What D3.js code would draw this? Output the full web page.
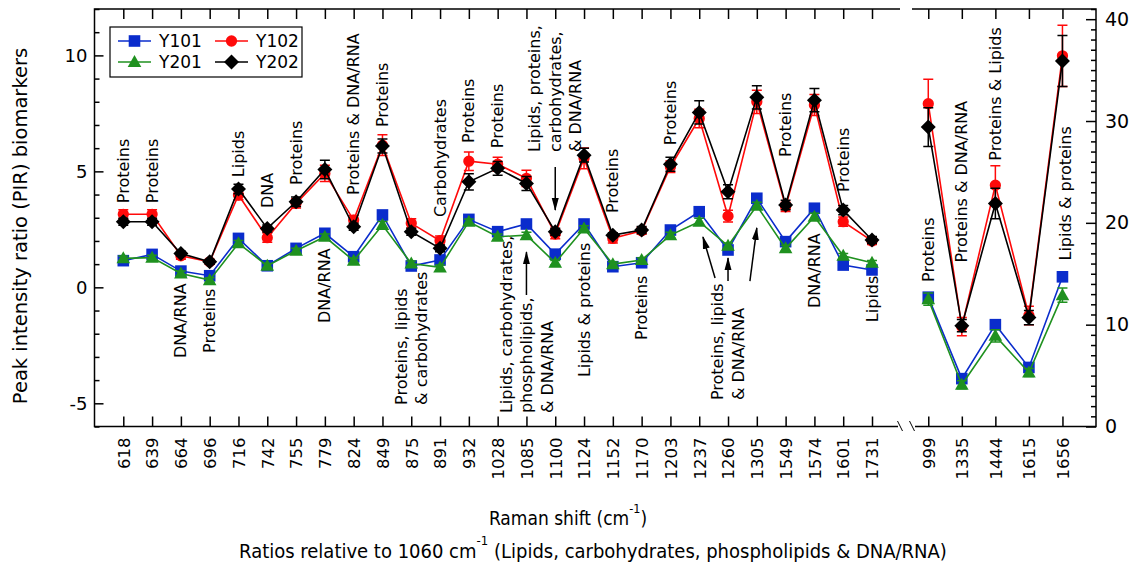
<!DOCTYPE html>
<html>
<head>
<meta charset="utf-8">
<script src="https://cdn.jsdelivr.net/npm/d3@7"></script>
<style>
body{margin:0;background:#fff}
svg{display:block}
</style>
</head>
<body>
<svg id="chart" width="1141" height="565"></svg>
<script>
// x categories (Raman shift, cm-1)
var leftCats = ["618","639","664","696","716","742","755","779","824","849","875","891","932","1028","1085","1100","1124","1152","1170","1203","1237","1260","1305","1549","1574","1601","1731"];
var rightCats = ["999","1335","1444","1615","1656"];

// left panel values (left axis)
var y101L = [1.15,1.42,0.70,0.50,2.11,0.93,1.68,2.33,1.32,3.12,0.92,1.18,2.93,2.40,2.73,1.43,2.73,0.89,1.06,2.47,3.26,1.61,3.84,1.97,3.41,0.96,0.75];
var y201L = [1.25,1.28,0.60,0.31,1.90,0.93,1.58,2.18,1.15,2.69,1.03,0.86,2.83,2.18,2.25,1.06,2.54,1.00,1.18,2.25,2.83,1.79,3.52,1.68,3.04,1.36,1.06];
var y102L = [3.15,3.15,1.36,1.10,3.98,2.14,3.62,4.91,2.90,6.13,2.76,2.01,5.44,5.31,4.70,2.30,5.56,2.11,2.44,5.20,7.28,3.07,8.00,3.47,7.86,2.83,2.00];
var y202L = [2.83,2.83,1.46,1.10,4.24,2.54,3.69,5.08,2.61,6.09,2.40,1.68,4.55,5.13,4.48,2.40,5.70,2.25,2.47,5.31,7.54,4.12,8.19,3.55,8.07,3.33,2.04];
var e101L = [0.1,0.1,0.1,0.1,0.12,0.1,0.1,0.12,0.1,0.15,0.1,0.1,0.12,0.12,0.12,0.1,0.12,0.1,0.1,0.12,0.15,0.12,0.15,0.12,0.15,0.1,0.1];
var e201L = [0.1,0.1,0.1,0.1,0.12,0.1,0.1,0.12,0.1,0.15,0.1,0.1,0.12,0.12,0.12,0.1,0.12,0.1,0.1,0.12,0.15,0.12,0.15,0.12,0.15,0.1,0.1];
var e102L = [0.2,0.2,0.15,0.1,0.2,0.2,0.2,0.35,0.2,0.45,0.2,0.2,0.4,0.3,0.35,0.2,0.45,0.2,0.15,0.25,0.4,0.25,0.5,0.2,0.45,0.2,0.15];
var e202L = [0.15,0.15,0.1,0.1,0.2,0.15,0.2,0.4,0.15,0.3,0.15,0.15,0.35,0.3,0.3,0.15,0.3,0.1,0.15,0.3,0.5,0.3,0.5,0.2,0.5,0.2,0.15];

// right panel values (right axis)
var y101R = [12.7,4.7,10.0,5.8,14.7];
var y201R = [12.5,4.1,8.9,5.3,12.9];
var y102R = [31.7,9.8,23.7,10.9,36.4];
var y202R = [29.4,9.9,21.9,10.7,35.9];
var e101R = [0.4,0.3,0.3,0.3,0.3];
var e201R = [0.6,0.4,0.6,0.4,0.7];
var e102R = [2.4,0.9,1.9,0.9,3.0];
var e202R = [1.9,0.6,1.5,0.7,2.5];

// axis ticks
var leftMajor = [-5,0,5,10];
var rightMajor = [0,10,20,30,40];

// band assignments (text, category index, value at the text's lower end)
var notesL = [
  [["Proteins"],0,3.63],[["Proteins"],1,3.63],[["DNA/RNA"],2,-3.05],[["Proteins"],3,-2.83],
  [["Lipids"],4,4.75],[["DNA"],5,3.42],[["Proteins"],6,4.41],[["DNA/RNA"],7,-1.54],
  [["Proteins & DNA/RNA"],8,3.98],[["Proteins"],9,6.91],[["Proteins, lipids","& carbohydrates"],10,-5.07],
  [["Carbohydrates"],11,3.03],[["Proteins"],12,6.22],[["Proteins"],13,6.0],
  [["Lipids, carbohydrates,","phospholipids,","& DNA/RNA"],14,-5.42],
  [["Lipids, proteins,","carbohydrates,","& DNA/RNA"],15,5.83],
  [["Lipids & proteins"],16,-3.87],[["Proteins"],17,3.2],[["Proteins"],18,-2.27],[["Proteins"],19,6.13],
  [["Proteins, lipids","& DNA/RNA"],21,-4.86],[["Proteins"],23,5.62],[["DNA/RNA"],24,-0.89],
  [["Proteins"],25,4.11],[["Lipids"],26,-1.5]
];
var notesR = [
  [["Proteins"],0,14.2],[["Proteins & DNA/RNA"],1,16.1],[["Proteins & Lipids"],2,26.1],[["Lipids & proteins"],4.1,16.3]
];
// arrows: [x0, y0, x1, y1] in category index / left-axis value
var arrows = [
  [15,5.19,15,3.33],[14,-0.33,14,1.52],
  [20.55,0.4,20.13,2.17],[21,0.27,21,1.26],[21.76,0.27,22,2.56]
];

var svg = d3.select("#chart");
var FONT = "'DejaVu Sans', Verdana, sans-serif";
var NARROW = "'Liberation Sans Narrow', 'DejaVu Sans Condensed', sans-serif";
var blue = "#0a2ccc", green = "#1f911f", red = "#ff0a0a", black = "#000";

var yTop = 9, yBot = 426.5;
var xL = d3.scaleLinear().domain([-1, 27]).range([94.5, 900.8]);
var xR = d3.scaleLinear().domain([-0.5, 5]).range([911.5, 1096]);
var yL = d3.scaleLinear().domain([-6, 12]).range([yBot, yTop]);
var yR = d3.scaleLinear().domain([0, 41]).range([yBot, yTop]);

function styleAxis(g, size) {
  g.select(".domain").remove();
  g.attr("font-family", FONT).attr("font-size", size);
  g.selectAll(".tick line").attr("stroke-width", 1.5);
}

// y axes
svg.append("g").attr("transform", "translate(" + xL.range()[0] + ",0)")
  .call(d3.axisLeft(yL).tickValues(d3.range(-6, 13).filter(function(d){return d % 5;})).tickSize(-5).tickFormat(""))
  .call(styleAxis, 18);
svg.append("g").attr("transform", "translate(" + xL.range()[0] + ",0)")
  .call(d3.axisLeft(yL).tickValues(leftMajor).tickSize(-9).tickPadding(7).tickFormat(function(d){return String(d);}))
  .call(styleAxis, 18);
svg.append("g").attr("transform", "translate(" + xR.range()[1] + ",0)")
  .call(d3.axisRight(yR).tickValues(d3.range(0, 42).filter(function(d){return d % 10;})).tickSize(-5).tickFormat(""))
  .call(styleAxis, 19);
svg.append("g").attr("transform", "translate(" + xR.range()[1] + ",0)")
  .call(d3.axisRight(yR).tickValues(rightMajor).tickSize(-10).tickPadding(9).tickFormat(function(d){return String(d);}))
  .call(styleAxis, 19);

// x axes (bottom with labels, top ticks only)
function xAxes(x, cats) {
  svg.append("g").attr("transform", "translate(0," + yBot + ")")
    .call(d3.axisBottom(x).tickValues(d3.range(cats.length)).tickSize(-10).tickFormat(function(i){return cats[i];}))
    .call(styleAxis, 16.5)
    .selectAll(".tick text")
    .attr("transform", "rotate(-90)")
    .attr("text-anchor", "end")
    .attr("x", -11).attr("y", 0).attr("dy", "0.35em");
  svg.append("g").attr("transform", "translate(0," + yTop + ")")
    .call(d3.axisTop(x).tickValues(d3.range(cats.length)).tickSize(-10).tickFormat(""))
    .call(styleAxis, 16);
}
xAxes(xL, leftCats);
xAxes(xR, rightCats);

// frame
var frame = svg.append("g").attr("stroke", "#000").attr("stroke-width", 1.5).attr("fill", "none");
frame.append("path").attr("d", "M900," + yTop + "H" + xL.range()[0] + "V" + yBot + "H898");
frame.append("path").attr("d", "M912," + yTop + "H" + xR.range()[1] + "V" + yBot + "H915");
frame.append("path").attr("stroke-width", 1).attr("d", "M897.5,421L902.5,431M909.5,421L914.5,431");

// markers
function shape(kind) {
  if (kind == "square") return "M-5.8,-5.8h11.6v11.6h-11.6z";
  if (kind == "circle") return d3.symbol(d3.symbolCircle, 100)();
  if (kind == "triangle") return "M0,-7L6.8,5L-6.8,5z";
  return "M0,-7.5L7.5,0L0,7.5L-7.5,0z";
}

function series(x, y, vals, errs, color, kind) {
  var g = svg.append("g");
  var line = d3.line().x(function(d, i){return x(i);}).y(function(d){return y(d);});
  g.append("path").datum(vals).attr("d", line).attr("fill", "none").attr("stroke", color).attr("stroke-width", 1.6);
  g.selectAll(".eb").data(vals).enter().append("path")
    .attr("fill", "none").attr("stroke", color).attr("stroke-width", 1.5)
    .attr("d", function(d, i) {
      var cx = x(i), a = y(d + errs[i]), b = y(d - errs[i]);
      return "M" + cx + "," + a + "V" + b + "M" + (cx - 5) + "," + a + "h10M" + (cx - 5) + "," + b + "h10";
    });
  g.selectAll(".mk").data(vals).enter().append("path")
    .attr("d", shape(kind)).attr("fill", color)
    .attr("transform", function(d, i){return "translate(" + x(i) + "," + y(d) + ")";});
}

series(xL, yL, y101L, e101L, blue, "square");
series(xL, yL, y201L, e201L, green, "triangle");
series(xL, yL, y102L, e102L, red, "circle");
series(xL, yL, y202L, e202L, black, "diamond");
series(xR, yR, y101R, e101R, blue, "square");
series(xR, yR, y201R, e201R, green, "triangle");
series(xR, yR, y102R, e102R, red, "circle");
series(xR, yR, y202R, e202R, black, "diamond");

// annotations
function notes(list, x, y) {
  list.forEach(function(n) {
    var lines = n[0];
    var t = svg.append("text")
      .attr("transform", "translate(" + x(n[1]) + "," + y(n[2]) + ") rotate(-90)")
      .attr("font-family", FONT).attr("font-size", 16).attr("fill", "#000");
    lines.forEach(function(s, k) {
      t.append("tspan").attr("x", 0).attr("y", (k - (lines.length - 1) / 2) * 20.5).attr("dy", "0.35em").text(s);
    });
  });
}
notes(notesL, xL, yL);
notes(notesR, xR, yR);

svg.append("defs").append("marker").attr("id", "ah")
  .attr("markerUnits", "userSpaceOnUse").attr("markerWidth", 13).attr("markerHeight", 8)
  .attr("refX", 12).attr("refY", 4).attr("orient", "auto")
  .append("path").attr("d", "M0,0.5L13,4L0,7.5z").attr("fill", "#000");
arrows.forEach(function(a) {
  svg.append("line").attr("x1", xL(a[0])).attr("y1", yL(a[1])).attr("x2", xL(a[2])).attr("y2", yL(a[3]))
    .attr("stroke", "#000").attr("stroke-width", 1.5).attr("marker-end", "url(#ah)");
});

// legend
var lg = svg.append("g");
lg.append("rect").attr("x", 110).attr("y", 27).attr("width", 192).attr("height", 50)
  .attr("fill", "#fff").attr("stroke", "#000").attr("stroke-width", 1.2);
var legendItems = [["Y101", blue, "square", 0, 0], ["Y102", red, "circle", 1, 0], ["Y201", green, "triangle", 0, 1], ["Y202", black, "diamond", 1, 1]];
legendItems.forEach(function(it) {
  var lx = it[3] ? 215 : 118, ly = it[4] ? 62 : 41;
  lg.append("line").attr("x1", lx).attr("x2", lx + 33).attr("y1", ly).attr("y2", ly).attr("stroke", it[1]).attr("stroke-width", 1.6);
  lg.append("path").attr("d", shape(it[2])).attr("fill", it[1]).attr("transform", "translate(" + (lx + 16.5) + "," + ly + ")");
  lg.append("text").attr("x", lx + 41).attr("y", ly).attr("dy", "0.36em")
    .attr("font-family", FONT).attr("font-size", 17).text(it[0]);
});

// titles
svg.append("text").attr("transform", "translate(20,226) rotate(-90)").attr("dy", "0.35em")
  .attr("text-anchor", "middle").attr("font-family", FONT).attr("font-size", 19.5)
  .text("Peak intensity ratio (PIR) biomarkers");

var xt = svg.append("text").attr("x", 568).attr("y", 525).attr("text-anchor", "middle")
  .attr("font-family", NARROW).attr("font-size", 19);
xt.append("tspan").text("Raman shift (cm");
xt.append("tspan").attr("dy", -12).attr("font-size", 12.5).text("-1");
xt.append("tspan").attr("dy", 12).text(")");

var cap = svg.append("text").attr("x", 593).attr("y", 558).attr("text-anchor", "middle")
  .attr("font-family", NARROW).attr("font-size", 20);
cap.append("tspan").text("Ratios relative to 1060 cm");
cap.append("tspan").attr("dy", -13).attr("font-size", 13).text("-1");
cap.append("tspan").attr("dy", 13).text(" (Lipids, carbohydrates, phospholipids & DNA/RNA)");
</script>
</body>
</html>
